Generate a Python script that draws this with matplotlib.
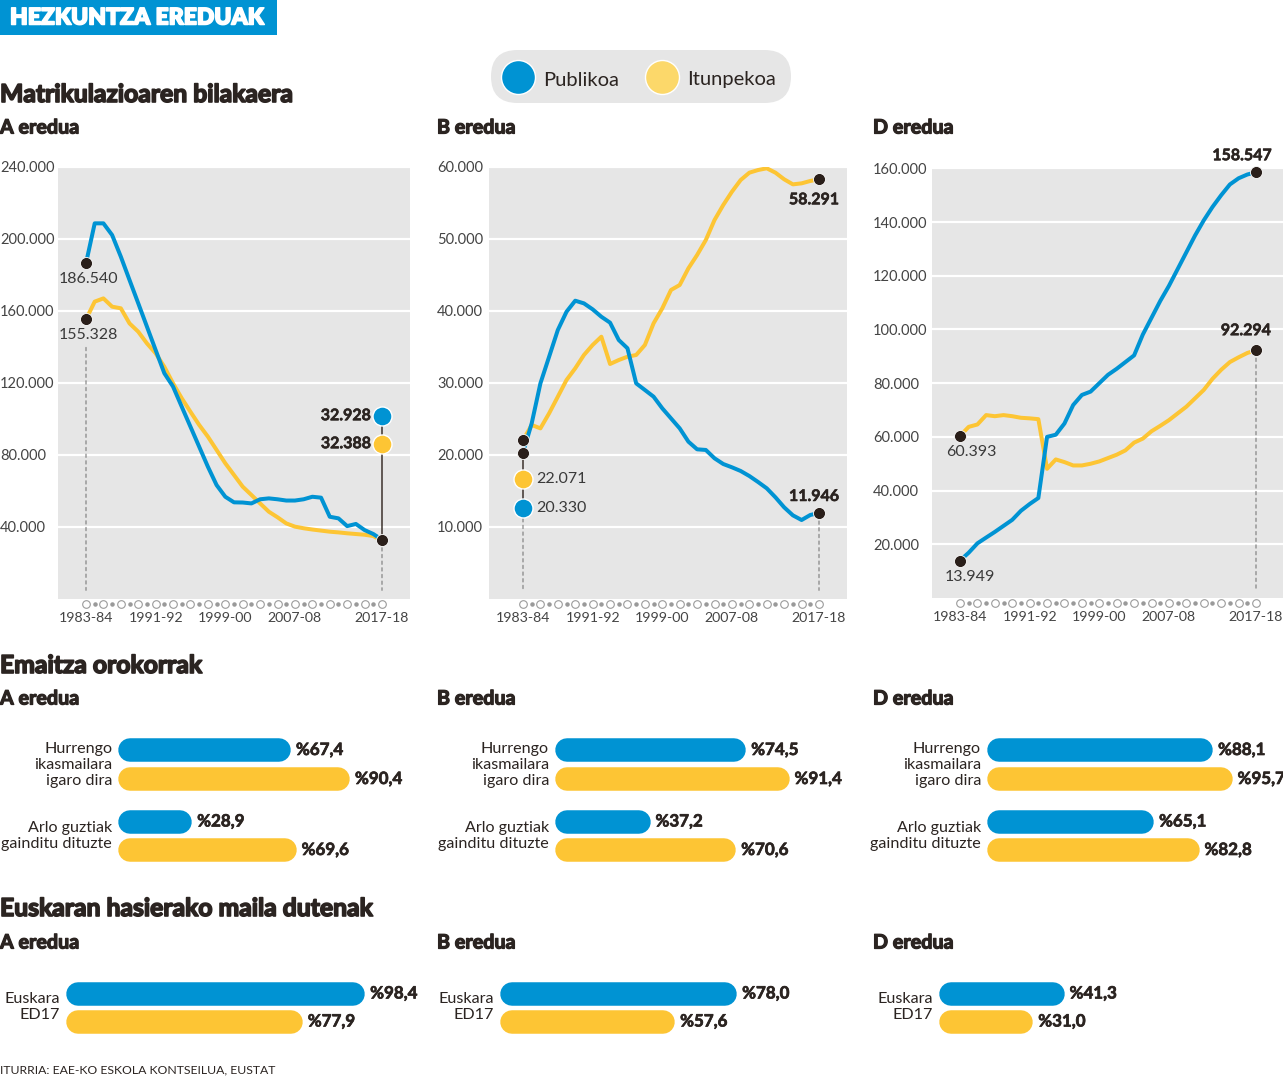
import matplotlib
matplotlib.use("Agg")
import matplotlib.pyplot as plt
import matplotlib.patheffects as pe
from matplotlib.patches import FancyBboxPatch, Rectangle
from matplotlib.transforms import offset_copy

plt.rcParams['font.family'] = ['Lato', 'DejaVu Sans']

# ---------------- DATA ----------------
years = ["1983-84", "1991-92", "1999-00", "2007-08", "2017-18"]
year_idx = [0, 8, 16, 24, 34]
n_years = 35

a_publikoa = [186540, 208700, 208700, 202200, 190200, 177200, 164300, 151300, 138300, 125400,
              118000, 106800, 95700, 84600, 73500, 63300, 56800, 53700, 53600, 53100,
              55400, 55900, 55400, 54700, 54700, 55400, 56800, 56300, 45700, 44800,
              40500, 41700, 38300, 36100, 32928]
a_itunpekoa = [155328, 165200, 167000, 162400, 161500, 153100, 148500, 142000, 136500, 129000,
               119800, 111500, 104000, 96700, 90200, 82800, 75400, 68900, 62400, 57800,
               53100, 48500, 45400, 42000, 40200, 39300, 38600, 38000, 37400, 37000,
               36500, 36100, 35700, 35000, 32388]
b_publikoa = [20330, 24400, 29950, 33650, 37360, 39900, 41430, 41060, 40230, 39200,
              38380, 35970, 34820, 29950, 29030, 28100, 26480, 25090, 23700, 21850,
              20790, 20700, 19540, 18750, 18290, 17780, 17080, 16250, 15370, 14120,
              12730, 11620, 10970, 11670, 11946]
b_itunpekoa = [22071, 24170, 23700, 25790, 28100, 30420, 32040, 33890, 35280, 36430,
               32640, 33190, 33650, 33890, 35280, 38290, 40370, 42920, 43610, 45930,
               47780, 49860, 52640, 54720, 56570, 58190, 59210, 59580, 59820, 59210,
               58290, 57590, 57730, 58060, 58291]
d_publikoa = [13949, 16870, 20360, 22500, 24610, 26860, 29110, 32480, 34990, 37240,
              60000, 60800, 64990, 71860, 75610, 76860, 79990, 83110, 85360, 87860,
              90360, 98110, 104360, 110610, 116240, 122480, 128740, 135000, 140630, 145610,
              150000, 154000, 156300, 157700, 158547]
d_itunpekoa = [60393, 63740, 64610, 68110, 67700, 68110, 67700, 67110, 66900, 66600,
               48110, 51600, 50610, 49360, 49360, 49990, 50860, 52110, 53360, 54980,
               57860, 59360, 62100, 64110, 66230, 68740, 71240, 74360, 77480, 81610,
               84990, 87860, 89630, 91240, 92294]

a_yticks = [40000, 80000, 120000, 160000, 200000, 240000]
b_yticks = [10000, 20000, 30000, 40000, 50000, 60000]
d_yticks = [20000, 40000, 60000, 80000, 100000, 120000, 140000, 160000]

result_categories = ["Hurrengo\nikasmailara\nigaro dira", "Arlo guztiak\ngainditu dituzte"]
result_a_publikoa = [67.4, 28.9]
result_a_itunpekoa = [90.4, 69.6]
result_b_publikoa = [74.5, 37.2]
result_b_itunpekoa = [91.4, 70.6]
result_d_publikoa = [88.1, 65.1]
result_d_itunpekoa = [95.7, 82.8]

euskara_category = "Euskara\nED17"
euskara_publikoa = [98.4, 78.0, 41.3]      # A, B, D
euskara_itunpekoa = [77.9, 57.6, 31.0]

# ---------------- STYLE ----------------
W, H = 1283, 1077
BLUE = "#0093D3"
YELLOW = "#FDC534"
LEG_YELLOW = "#FCD86A"
GRAY = "#E6E6E6"
TXT = "#2B2421"
DOT = "#2A1F1A"
TICKC = "#444444"


def PT(px):
    return px * 72.0 / 100.0


def rect(l, t, r, b):
    return [l / W, 1 - b / H, (r - l) / W, (b - t) / H]


def fmt_thousands(v):
    return f"{v:,}".replace(",", ".")


def fmt_pct(v):
    return "%" + f"{v:.1f}".replace(".", ",")


def heavy(w, color=TXT):
    return [pe.withStroke(linewidth=w, foreground=color)]


fig = plt.figure(figsize=(W / 100, H / 100), dpi=100)
fig.patch.set_facecolor("white")

# overlay axes in pixel units for titles / header / legend
ov = fig.add_axes([0, 0, 1, 1])
ov.set_xlim(0, W)
ov.set_ylim(H, 0)
ov.axis("off")

ov.add_patch(Rectangle((0, 0), 277, 35, color=BLUE, lw=0))
ov.text(10, 24.5, "HEZKUNTZA EREDUAK", color="white", fontsize=16.5,
        fontweight="heavy", va="baseline", ha="left", path_effects=heavy(1.1, "white"))

# legend pill
ov.add_patch(FancyBboxPatch((491, 50), 300, 53, boxstyle="round,pad=0,rounding_size=26.5",
                            facecolor=GRAY, edgecolor="none"))
ov.scatter([518], [76.5], s=PT(34) ** 2, color=BLUE, edgecolors="white", linewidths=1, zorder=3)
ov.scatter([662], [76.5], s=PT(34) ** 2, color=LEG_YELLOW, edgecolors="white", linewidths=1, zorder=3)
ov.text(543, 85.5, "Publikoa", fontsize=14.5, color=TXT, va="baseline")
ov.text(687, 85.5, "Itunpekoa", fontsize=14.5, color=TXT, va="baseline")

# titles
for ybase, title in ((102, "Matrikulazioaren bilakaera"), (673, "Emaitza orokorrak"),
                     (916, "Euskaran hasierako maila dutenak")):
    ov.text(0, ybase, title, fontsize=17.8, fontweight="bold", color=TXT, va="baseline",
            path_effects=heavy(1.2))
for ybase in (133.5, 704.5, 948.5):
    for xl, name in ((0, "A eredua"), (437, "B eredua"), (873, "D eredua")):
        ov.text(xl, ybase, name, fontsize=14.2, fontweight="bold", color=TXT, va="baseline",
                path_effects=heavy(0.9))
ov.text(0, 1073, "ITURRIA: EAE-KO ESKOLA KONTSEILUA, EUSTAT", fontsize=8.8, color=TXT, va="baseline")


# ---------------- LINE PANELS ----------------
def line_panel(l, r, t, b, x0px, x1px, label_x, ymax, yticks, pub, itu):
    ax = fig.add_axes(rect(l, t, r, b))
    ax.set_facecolor(GRAY)
    ppy = (x1px - x0px) / (n_years - 1)
    ax.set_xlim(-(x0px - l) / ppy, (n_years - 1) + (r - x1px) / ppy)
    ax.set_ylim(0, ymax)
    for s in ax.spines.values():
        s.set_visible(False)
    ax.set_yticks(yticks)
    ax.set_yticklabels([fmt_thousands(v) for v in yticks])
    ax.tick_params(axis="y", length=0, pad=PT(l - label_x), labelsize=10.5, labelcolor=TICKC)
    for lab in ax.get_yticklabels():
        lab.set_horizontalalignment("left")
    ax.set_xticks(year_idx)
    ax.set_xticklabels(years)
    ax.tick_params(axis="x", length=0, pad=PT(13), labelsize=10.2, labelcolor=TICKC)
    ax.grid(axis="y", color="white", lw=1.6)
    ax.grid(axis="x", visible=False)
    ax.set_axisbelow(True)
    xs = list(range(n_years))
    # year markers
    tr = ax.get_xaxis_transform()
    even = [i for i in xs if i % 2 == 0]
    odd = [i for i in xs if i % 2 == 1]
    ax.scatter(even, [-0.0125] * len(even), transform=tr, s=30, facecolors="white",
               edgecolors="#9A9A9A", linewidths=0.8, clip_on=False, zorder=5)
    ax.scatter(odd, [-0.0125] * len(odd), transform=tr, s=5, color="#9A9A9A",
               clip_on=False, zorder=5)
    ax.plot(xs, itu, color=YELLOW, lw=PT(4), solid_joinstyle="round", solid_capstyle="round", zorder=3)
    ax.plot(xs, pub, color=BLUE, lw=PT(4), solid_joinstyle="round", solid_capstyle="round", zorder=4)
    return ax


def dot(ax, x, v):
    ax.scatter([x], [v], s=PT(12) ** 2, color=DOT, edgecolors="white", linewidths=0.6,
               zorder=8, clip_on=False)


def label(ax, x, v, text, dx, dy, bold=False, ha="center"):
    ax.annotate(text, xy=(x, v), xytext=(PT(dx), PT(dy)), textcoords="offset points",
                ha=ha, va="center", fontsize=11.5, color=(TXT if bold else "#3A3A3A"),
                fontweight=("bold" if bold else "normal"), zorder=9, annotation_clip=False,
                path_effects=(heavy(0.4) if bold else None))


def dash_down(ax, x, v, gap_px):
    ax.annotate("", xy=(x, 0.02), xycoords=("data", "axes fraction"), xytext=(x, v),
                textcoords="data",
                arrowprops=dict(arrowstyle="-", color="#7A7A7A", lw=0.8, linestyle=(0, (3, 3)),
                                shrinkA=PT(gap_px), shrinkB=0), zorder=2)


def connector(ax, x, v, dy_px):
    ax.annotate("", xy=(x, v), xytext=(0, PT(dy_px)), textcoords="offset points",
                arrowprops=dict(arrowstyle="-", color=DOT, lw=1.0, shrinkA=0, shrinkB=0), zorder=6)


def key_circle(ax, x, v, dy_px, color):
    tr = offset_copy(ax.transData, fig=fig, x=0, y=PT(dy_px), units="points")
    ax.plot([x], [v], transform=tr, marker="o", ms=PT(19), color=color, mec="white", mew=1,
            zorder=7, clip_on=False)


# A
axA = line_panel(58, 410, 167, 599, 86, 382, 0, 240000, a_yticks, a_publikoa, a_itunpekoa)
dash_down(axA, 0, a_itunpekoa[0], 28)
dot(axA, 0, a_publikoa[0])
dot(axA, 0, a_itunpekoa[0])
label(axA, 0, a_publikoa[0], fmt_thousands(a_publikoa[0]), 2, -16)
label(axA, 0, a_itunpekoa[0], fmt_thousands(a_itunpekoa[0]), 2, -16)
dash_down(axA, 34, a_publikoa[-1], 8)
connector(axA, 34, a_publikoa[-1], 123.5)
dot(axA, 34, a_publikoa[-1])
key_circle(axA, 34, a_publikoa[-1], 123.5, BLUE)
key_circle(axA, 34, a_publikoa[-1], 95.5, YELLOW)
label(axA, 34, a_publikoa[-1], fmt_thousands(a_publikoa[-1]), -11, 123.5, bold=True, ha="right")
label(axA, 34, a_publikoa[-1], fmt_thousands(a_itunpekoa[-1]), -11, 95.5, bold=True, ha="right")

# B
axB = line_panel(489, 847, 167, 599, 523, 819, 437, 60000, b_yticks, b_publikoa, b_itunpekoa)
dash_down(axB, 0, b_publikoa[0], 66)
connector(axB, 0, b_publikoa[0], -55.5)
dot(axB, 0, b_itunpekoa[0])
dot(axB, 0, b_publikoa[0])
key_circle(axB, 0, b_publikoa[0], -26.5, YELLOW)
key_circle(axB, 0, b_publikoa[0], -55.5, BLUE)
label(axB, 0, b_publikoa[0], fmt_thousands(b_itunpekoa[0]), 13, -26.5, ha="left")
label(axB, 0, b_publikoa[0], fmt_thousands(b_publikoa[0]), 13, -55.5, ha="left")
dash_down(axB, 34, b_publikoa[-1], 8)
dot(axB, 34, b_publikoa[-1])
dot(axB, 34, b_itunpekoa[-1])
label(axB, 34, b_publikoa[-1], fmt_thousands(b_publikoa[-1]), -5, 16, bold=True)
label(axB, 34, b_itunpekoa[-1], fmt_thousands(b_itunpekoa[-1]), -5, -21, bold=True)

# D
axD = line_panel(932, 1283, 167, 598, 960, 1256, 873, 160500, d_yticks, d_publikoa, d_itunpekoa)
dot(axD, 0, d_publikoa[0])
dot(axD, 0, d_itunpekoa[0])
label(axD, 0, d_publikoa[0], fmt_thousands(d_publikoa[0]), 10, -16.5)
label(axD, 0, d_itunpekoa[0], fmt_thousands(d_itunpekoa[0]), 11, -16)
dash_down(axD, 34, d_itunpekoa[-1], 8)
dot(axD, 34, d_publikoa[-1])
dot(axD, 34, d_itunpekoa[-1])
label(axD, 34, d_publikoa[-1], fmt_thousands(d_publikoa[-1]), -14, 16, bold=True)
label(axD, 34, d_itunpekoa[-1], fmt_thousands(d_itunpekoa[-1]), -10, 19, bold=True)


# ---------------- BAR PANELS ----------------
BAR_H = 23.5


def bar_axes(x0, scale, top, bottom):
    ax = fig.add_axes(rect(x0, top, x0 + 100 * scale, bottom))
    ax.set_xlim(0, 100)
    ax.set_ylim(bottom, top)
    ax.axis("off")
    return ax


def hbar(ax, v, y, color, scale):
    cap = (BAR_H / 2) / scale
    ax.plot([cap, v - cap], [y, y], color=color, lw=PT(BAR_H), solid_capstyle="round",
            zorder=3, clip_on=False)
    ax.annotate(fmt_pct(v), xy=(v, y), xytext=(PT(5), 0), textcoords="offset points",
                ha="left", va="center", fontsize=12.2, fontweight="bold", color=TXT,
                annotation_clip=False, path_effects=heavy(0.5))


def cat_label(ax, text, y):
    ax.annotate(text, xy=(0, y), xytext=(PT(-6), 0), textcoords="offset points",
                ha="right", va="center", multialignment="right", fontsize=11.6, color=TXT,
                linespacing=1.2, annotation_clip=False)


S2 = 2.566
row_pub = [750, 821.5]
row_itu = [779, 850]
for x0, pubv, ituv in ((118, result_a_publikoa, result_a_itunpekoa),
                       (555, result_b_publikoa, result_b_itunpekoa),
                       (987, result_d_publikoa, result_d_itunpekoa)):
    ax = bar_axes(x0, S2, 730, 870)
    for k in range(len(result_categories)):
        hbar(ax, pubv[k], row_pub[k], BLUE, S2)
        hbar(ax, ituv[k], row_itu[k], YELLOW, S2)
        cat_label(ax, result_categories[k], (row_pub[k] + row_itu[k]) / 2 + 0.5)

S3 = 3.04
for k, x0 in enumerate((66, 500, 939)):
    ax = bar_axes(x0, S3, 975, 1040)
    hbar(ax, euskara_publikoa[k], 993.5, BLUE, S3)
    hbar(ax, euskara_itunpekoa[k], 1021.5, YELLOW, S3)
    cat_label(ax, euskara_category, 1007)

fig.savefig("out.png", dpi=100, facecolor="white")
